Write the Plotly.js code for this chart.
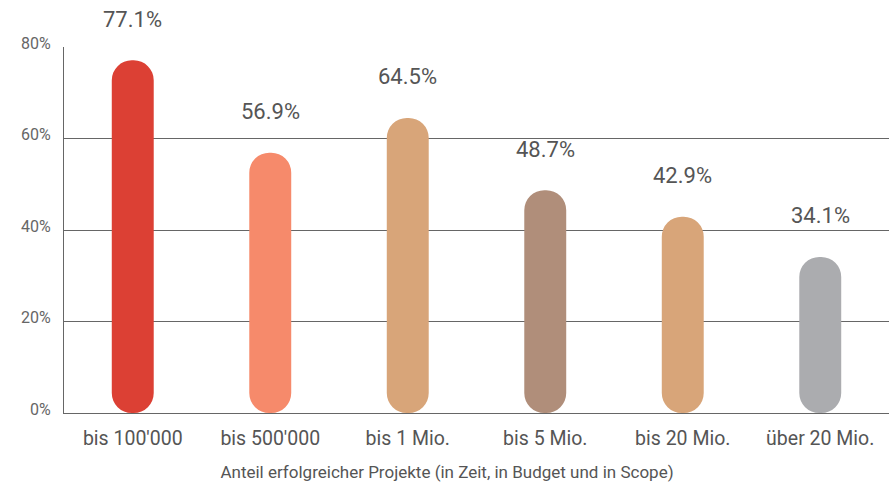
<!DOCTYPE html>
<html>
<head>
<meta charset="utf-8">
<script src="https://cdn.plot.ly/plotly-3.0.1.min.js"></script>
<style>
  html, body { margin: 0; padding: 0; background: #fff; }
  #chart { width: 894px; height: 487px; }
</style>
</head>
<body>
<div id="chart"></div>
<script>
// Budget classes and the share of successful projects in each
const categories = ["bis 100'000", "bis 500'000", "bis 1 Mio.", "bis 5 Mio.", "bis 20 Mio.", "über 20 Mio."];
const shares = [77.1, 56.9, 64.5, 48.7, 42.9, 34.1];
const barColors = ["#DC4034", "#F68A6B", "#D8A579", "#B08E7A", "#D8A579", "#ABACAF"];
const yTickVals = [0, 20, 40, 60, 80];
const yTickText = ["0%", "20%", "40%", "60%", "80%"];

const FONT = "Roboto, 'Noto Sans', sans-serif";
const BAR_W = 0.305;

// Floating bars (explicit base) get rounded corners at both ends, giving pill shapes
const pills = {
  type: "bar",
  x: categories,
  base: shares.map(() => 0),
  y: shares,
  width: BAR_W,
  marker: { color: barColors, cornerradius: "50%", line: { width: 0 } },
  hoverinfo: "skip",
  showlegend: false
};

// Percentage labels above each pill
const labels = categories.map((c, i) => ({
  x: c,
  y: shares[i],
  xref: "x",
  yref: "y",
  text: shares[i].toFixed(1) + "%",
  showarrow: false,
  yanchor: "middle",
  yshift: 41,
  font: { family: FONT, size: 22, color: "#555555" }
}));

const layout = {
  width: 894,
  height: 487,
  margin: { l: 64, r: 5, t: 47, b: 74 },
  paper_bgcolor: "#ffffff",
  plot_bgcolor: "#ffffff",
  showlegend: false,
  hovermode: false,
  font: { family: FONT, color: "#555555" },
  title: {
    text: "Anteil erfolgreicher Projekte (in Zeit, in Budget und in Scope)",
    xref: "container",
    yref: "container",
    x: 0.5,
    xanchor: "center",
    y: 0.03,
    yanchor: "middle",
    font: { family: FONT, size: 17, color: "#555555" }
  },
  xaxis: {
    type: "category",
    categoryorder: "array",
    categoryarray: categories,
    showgrid: false,
    zeroline: false,
    showline: true,
    linecolor: "#666666",
    linewidth: 1,
    ticks: "",
    ticklabelstandoff: 8,
    tickfont: { family: FONT, size: 19.5, color: "#555555" }
  },
  yaxis: {
    range: [0, 80],
    tickmode: "array",
    tickvals: yTickVals,
    ticktext: yTickText,
    showgrid: true,
    gridcolor: "#666666",
    gridwidth: 1,
    zeroline: false,
    showline: true,
    linecolor: "#666666",
    linewidth: 1,
    ticks: "",
    ticklabelstandoff: 9,
    ticklabelshift: -4,
    tickfont: { family: FONT, size: 16, color: "#666666" },
    fixedrange: true
  },
  annotations: labels
};

Plotly.newPlot("chart", [pills], layout, { staticPlot: true, displayModeBar: false });
</script>
</body>
</html>
